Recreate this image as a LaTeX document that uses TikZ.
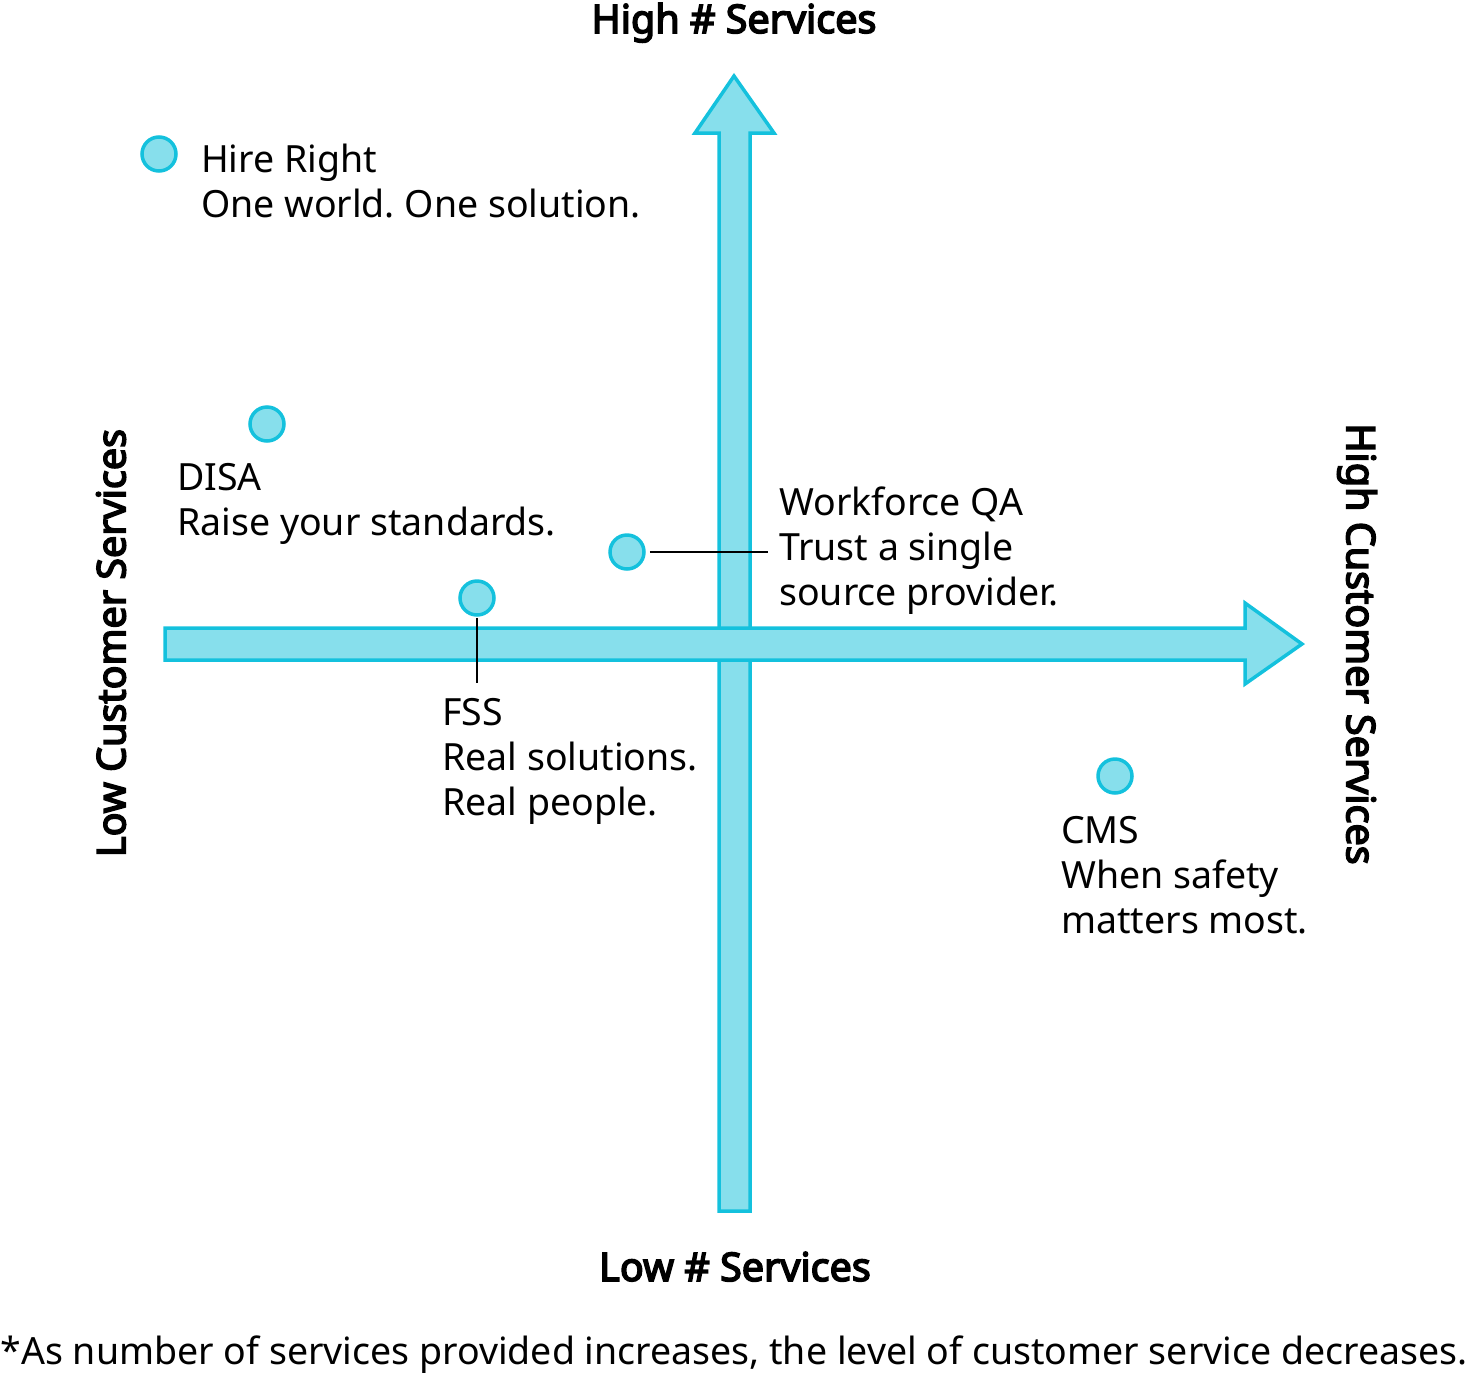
\documentclass[tikz,border=0pt]{standalone}
\usepackage{fontspec}
\setmainfont{Noto Sans}[AutoFakeBold=4]
\definecolor{axstroke}{HTML}{14C1DD}
\definecolor{axfill}{HTML}{87DFEC}
\frenchspacing
\begin{document}
\begin{tikzpicture}[x=1pt,y=-1pt,
  axis/.style={draw=axstroke,fill=axfill,line width=3.5pt,line join=miter},
  dot/.style={circle,draw=axstroke,fill=axfill,line width=3.5pt,minimum size=34pt,inner sep=0pt},
  lbl/.style={anchor=base west,inner sep=0pt,font=\fontsize{37.5}{45}\selectfont},
  axlbl/.style={inner sep=0pt,font=\fontsize{39.5}{46}\selectfont\bfseries},
  leader/.style={draw=black,line width=1.6pt}]
\useasboundingbox (0,0) rectangle (1469,1379);
% vertical axis arrow
\draw[axis] (719,1211) -- (719,133) -- (695,133) -- (734,76) -- (774,133) -- (750,133) -- (750,1211) -- cycle;
% horizontal axis arrow
\draw[axis] (165,628) -- (1245,628) -- (1245,603) -- (1302,644) -- (1245,684) -- (1245,660) -- (165,660) -- cycle;
% axis labels
\node[axlbl,anchor=base] (top) at (734,33) {High \# Services};
\node[axlbl,anchor=base] (bottom) at (735,1281) {Low \# Services};
\node[axlbl,rotate=90] (left) at (111,643) {Low Customer Services};
\node[axlbl,rotate=-90] (right) at (1357,644) {High Customer Services};
% companies
\node[dot] (hr) at (159,154) {};
\node[lbl] (hrt) at (201,172) {\begin{tabular}[t]{@{}l@{}}Hire Right\\One world. One solution.\end{tabular}};
\node[dot] (disa) at (267,424) {};
\node[lbl] (disat) at (177,490) {\begin{tabular}[t]{@{}l@{}}DISA\\Raise your standards.\end{tabular}};
\node[dot] (wf) at (627,552) {};
\node[lbl] (wft) at (779,515) {\begin{tabular}[t]{@{}l@{}}Workforce QA\\Trust a single\\source provider.\end{tabular}};
\coordinate (wfend) at (768,552);
\draw[leader] ([xshift=4pt]wf.east) -- (wfend);
\node[dot] (fss) at (477,598) {};
\node[lbl] (fsst) at (442,725) {\begin{tabular}[t]{@{}l@{}}FSS\\Real solutions.\\Real people.\end{tabular}};
\coordinate (fssend) at (477,683);
\draw[leader] ([yshift=-1pt]fss.south) -- (fssend);
\node[dot] (cms) at (1115,776) {};
\node[lbl] (cmst) at (1061,843) {\begin{tabular}[t]{@{}l@{}}CMS\\When safety\\matters most.\end{tabular}};
% footnote
\node[anchor=base,inner sep=0pt,font=\fontsize{37.5}{42}\selectfont] (note) at (734,1364) {*As number of services provided increases, the level of customer service decreases.};
\end{tikzpicture}
\end{document}
